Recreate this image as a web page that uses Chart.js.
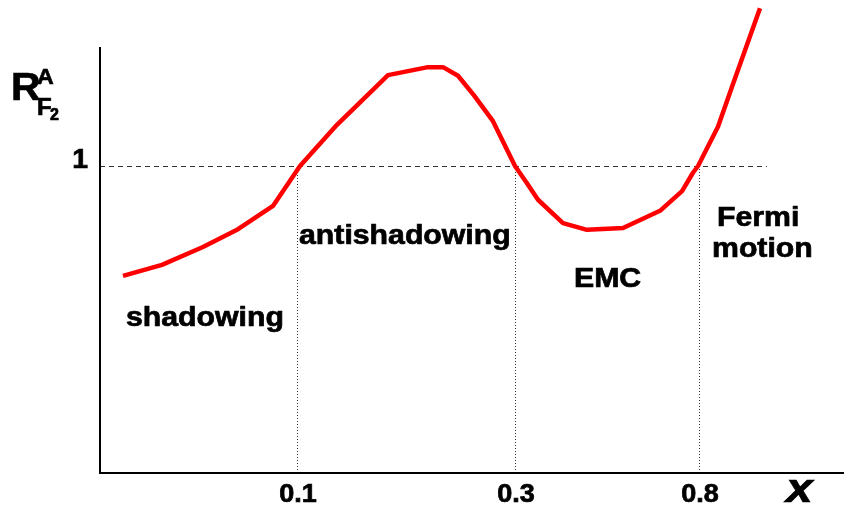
<!DOCTYPE html>
<html>
<head>
<meta charset="utf-8">
<script src="https://cdn.jsdelivr.net/npm/chart.js@4.4.1/dist/chart.umd.min.js"></script>
<style>
  html, body { margin: 0; padding: 0; background: #fff; }
</style>
</head>
<body>
<canvas id="chart" width="844" height="510"></canvas>
<script>
// schematic x position (0..100 across the axis) and R ratio
const xPos = [3.09, 8.33, 13.84, 18.55, 23.25, 26.88, 31.85, 38.71, 44.09, 46.10, 48.12, 50.27, 52.82,
  55.78, 57.39, 58.87, 62.23, 65.46, 70.30, 75.27, 78.23, 79.70, 80.38, 83.06, 84.95, 88.71];
const ratio = [0.821, 0.839, 0.868, 0.897, 0.935, 1.000, 1.067, 1.148, 1.161, 1.161, 1.147, 1.115, 1.073,
  1.000, 0.972, 0.945, 0.907, 0.896, 0.899, 0.927, 0.959, 0.989, 1.000, 1.064, 1.129, 1.257];

const tickPos = [26.48, 55.78, 80.51];
const tickLabels = ["0.1", "0.3", "0.8"];
const yTickPos = [1];
const yTickLabels = ["1"];
const refLineEnd = 89.65;

// region names, anchored at (x, R) of their left baseline
const regionNames = ["shadowing", "antishadowing", "EMC", "Fermi", "motion"];
const regionX = [3.49, 26.75, 63.71, 82.93, 82.26];
const regionY = [0.739, 0.873, 0.803, 0.902, 0.852];

const FONT = '"Liberation Sans", Arial, Helvetica, sans-serif';

// bold text, a little wider and heavier like the original Helvetica
function stretchText(ctx, text, x, y, font, sx, align) {
  ctx.save();
  ctx.font = font;
  ctx.textAlign = align || "left";
  ctx.textBaseline = "alphabetic";
  ctx.translate(x, y);
  ctx.scale(sx, 1);
  ctx.fillText(text, 0, 0);
  ctx.lineWidth = 0.7;
  ctx.strokeText(text, 0, 0);
  ctx.restore();
}

const sketchPlugin = {
  id: "sketch",
  beforeDatasetsDraw(chart) {
    const { ctx, chartArea: a, scales: { x, y } } = chart;
    ctx.save();
    // dotted region borders
    ctx.strokeStyle = "#333";
    ctx.lineWidth = 1;
    ctx.setLineDash([1, 2]);
    tickPos.forEach((t) => {
      const px = Math.round(x.getPixelForValue(t)) + 0.5;
      ctx.beginPath();
      ctx.moveTo(px, y.getPixelForValue(1));
      ctx.lineTo(px, a.bottom);
      ctx.stroke();
    });
    // dashed R = 1 line
    ctx.setLineDash([5, 4]);
    const py = Math.round(y.getPixelForValue(1)) + 0.5;
    ctx.beginPath();
    ctx.moveTo(a.left, py);
    ctx.lineTo(x.getPixelForValue(refLineEnd), py);
    ctx.stroke();
    // axes
    ctx.setLineDash([]);
    ctx.strokeStyle = "#000";
    ctx.lineWidth = 2;
    ctx.beginPath();
    ctx.moveTo(a.left, a.top);
    ctx.lineTo(a.left, a.bottom);
    ctx.lineTo(a.right, a.bottom);
    ctx.stroke();
    ctx.restore();
  },
  afterDatasetsDraw(chart) {
    const { ctx, chartArea: a, scales: { x, y } } = chart;
    ctx.save();
    ctx.fillStyle = "#000";
    ctx.strokeStyle = "#000";
    regionNames.forEach((name, i) => {
      stretchText(ctx, name, x.getPixelForValue(regionX[i]), y.getPixelForValue(regionY[i]),
        "bold 27px " + FONT, 1.12);
    });
    tickPos.forEach((t, i) => {
      stretchText(ctx, tickLabels[i], x.getPixelForValue(t) + 1, a.bottom + 29, "bold 25px " + FONT, 1.08, "center");
    });
    yTickPos.forEach((t, i) => {
      stretchText(ctx, yTickLabels[i], a.left - 12, y.getPixelForValue(t) + 2, "bold 27px " + FONT, 1.05, "right");
    });
    // axis titles
    stretchText(ctx, "x", a.right - 58, a.bottom + 29, "italic bold 40px " + FONT, 1.2);
    stretchText(ctx, "R", a.left - 89, a.top + 53, "bold 39px " + FONT, 1.05);
    stretchText(ctx, "A", a.left - 63, a.top + 37, "bold 22px " + FONT, 1.05);
    stretchText(ctx, "F", a.left - 63, a.top + 68, "bold 24px " + FONT, 1.0);
    stretchText(ctx, "2", a.left - 50, a.top + 73, "bold 16px " + FONT, 1.0);
    ctx.restore();
  },
};

const ctx = document.getElementById("chart").getContext("2d");
new Chart(ctx, {
  type: "line",
  data: {
    datasets: [{
      data: xPos.map((v, i) => ({ x: v, y: ratio[i] })),
      borderColor: "#ff0000",
      borderWidth: 4.5,
      pointRadius: 0,
      tension: 0,
      fill: false,
      clip: false,
      borderJoinStyle: "round",
    }],
  },
  options: {
    responsive: false,
    animation: false,
    layout: { padding: { left: 100, top: 47, right: 0, bottom: 37 } },
    scales: {
      x: { type: "linear", min: 0, max: 100, display: false },
      y: { type: "linear", min: 0.5, max: 1.1938, display: false },
    },
    plugins: { legend: { display: false }, tooltip: { enabled: false }, title: { display: false } },
  },
  plugins: [sketchPlugin],
});
</script>
</body>
</html>
